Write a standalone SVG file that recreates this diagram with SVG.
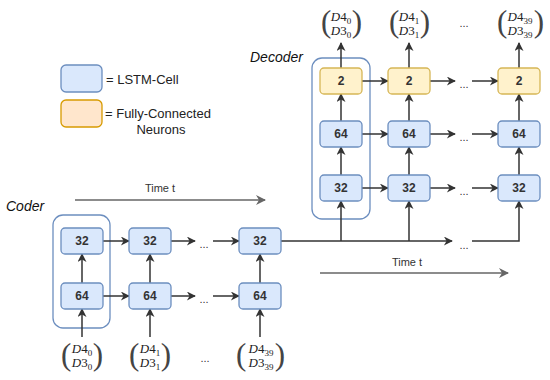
<svg xmlns="http://www.w3.org/2000/svg" width="550" height="380" viewBox="0 0 550 380">
<style>
.cell{fill:#dae8fc;stroke:#6c8ebf;stroke-width:1.3}
.fc{fill:#fff2cc;stroke:#d6b656;stroke-width:1.3}
.grp{fill:none;stroke:#6c8ebf;stroke-width:1.3}
.lbl{font-family:"Liberation Sans",Arial,sans-serif;font-weight:bold;font-size:12px;fill:#333;text-anchor:middle}
.txt{font-family:"Liberation Sans",Arial,sans-serif;font-size:13px;fill:#222}
.ttl{font-family:"Liberation Sans",Arial,sans-serif;font-style:italic;font-size:14px;fill:#111}
.tm{font-family:"Liberation Sans",Arial,sans-serif;font-size:11px;fill:#333;text-anchor:middle}
.dots{font-family:"Liberation Sans",Arial,sans-serif;font-size:11px;fill:#333;text-anchor:middle}
.m{font-family:"Liberation Serif","Times New Roman",serif;font-size:13px;fill:#222;text-anchor:middle}
.par{font-family:"Liberation Serif","Times New Roman",serif;font-size:31px;fill:#444}
.pr{text-anchor:end}
.conn{stroke:#333;stroke-width:1.5;fill:none}
.arr{marker-end:url(#arr)}
.time{stroke:#666;stroke-width:1.5;fill:none;marker-end:url(#garr)}
</style>
<defs>
<marker id="arr" viewBox="0 0 10 10" refX="9" refY="5" markerWidth="10" markerHeight="9" markerUnits="userSpaceOnUse" orient="auto">
<path d="M0,0 L10,5 L0,10 L3,5 z" fill="#333"/>
</marker>
<marker id="garr" viewBox="0 0 10 10" refX="9" refY="5" markerWidth="12" markerHeight="10" markerUnits="userSpaceOnUse" orient="auto">
<path d="M0,0 L10,5 L0,10 L3,5 z" fill="#666"/>
</marker>
</defs>

<g id="legend">
<rect x="61" y="65" width="41" height="27" rx="5" class="cell"/>
<text x="106" y="84" class="txt">= LSTM-Cell</text>
<rect x="61" y="100" width="41" height="27" rx="5" style="fill:#ffe6cc;stroke:#d79b00;stroke-width:1.3"/>
<text x="105" y="118" class="txt">= Fully-Connected</text>
<text x="161" y="134" class="txt" text-anchor="middle">Neurons</text>
</g>

<g id="titles">
<text x="250" y="62" class="ttl">Decoder</text>
<text x="6" y="211" class="ttl">Coder</text>
</g>

<g id="coder-group"><rect x="53" y="215" width="57" height="113" rx="10" class="grp"/></g>
<g id="decoder-group"><rect x="312" y="58" width="58" height="161" rx="10" class="grp"/></g>

<g id="time-arrows">
<text x="160" y="192" class="tm">Time t</text>
<path d="M75,200 H265" class="time"/>
<text x="407" y="266" class="tm">Time t</text>
<path d="M320,273 H508" class="time"/>
</g>

<g id="connectors">
<path d="M82,337 V309" class="conn arr"/>
<path d="M150,337 V309" class="conn arr"/>
<path d="M260,337 V309" class="conn arr"/>
<path d="M82,283 V254" class="conn arr"/>
<path d="M150,283 V254" class="conn arr"/>
<path d="M260,283 V254" class="conn arr"/>
<path d="M103,241 H129" class="conn arr"/>
<path d="M171,241 H195" class="conn arr"/>
<path d="M213,241 H239" class="conn arr"/>
<path d="M103,296 H129" class="conn arr"/>
<path d="M171,296 H195" class="conn arr"/>
<path d="M213,296 H239" class="conn arr"/>
<path d="M281,241 H452" class="conn arr"/>
<path d="M341,241 V201" class="conn arr"/>
<path d="M409,241 V201" class="conn arr"/>
<path d="M472,241 H519 V201" class="conn arr"/>
<path d="M341,175 V147" class="conn arr"/>
<path d="M409,175 V147" class="conn arr"/>
<path d="M519,175 V147" class="conn arr"/>
<path d="M341,121 V94" class="conn arr"/>
<path d="M409,121 V94" class="conn arr"/>
<path d="M519,121 V94" class="conn arr"/>
<path d="M341,68 V43" class="conn arr"/>
<path d="M409,68 V43" class="conn arr"/>
<path d="M519,68 V43" class="conn arr"/>
<path d="M362,81 H388" class="conn arr"/>
<path d="M430,81 H455" class="conn arr"/>
<path d="M472,81 H498" class="conn arr"/>
<path d="M362,134 H388" class="conn arr"/>
<path d="M430,134 H455" class="conn arr"/>
<path d="M472,134 H498" class="conn arr"/>
<path d="M362,188 H388" class="conn arr"/>
<path d="M430,188 H455" class="conn arr"/>
<path d="M472,188 H498" class="conn arr"/>
<text x="204" y="248" class="dots">...</text>
<text x="204" y="303" class="dots">...</text>
<text x="464" y="88" class="dots">...</text>
<text x="464" y="141" class="dots">...</text>
<text x="464" y="195" class="dots">...</text>
<text x="464" y="249" class="dots">...</text>
</g>

<g id="coder-c0-32"><rect x="61" y="228" width="42" height="26" rx="4" class="cell"/><text x="82" y="245" class="lbl">32</text></g>
<g id="coder-c1-32"><rect x="129" y="228" width="42" height="26" rx="4" class="cell"/><text x="150" y="245" class="lbl">32</text></g>
<g id="coder-c2-32"><rect x="239" y="228" width="42" height="26" rx="4" class="cell"/><text x="260" y="245" class="lbl">32</text></g>
<g id="coder-c0-64"><rect x="61" y="283" width="42" height="26" rx="4" class="cell"/><text x="82" y="300" class="lbl">64</text></g>
<g id="coder-c1-64"><rect x="129" y="283" width="42" height="26" rx="4" class="cell"/><text x="150" y="300" class="lbl">64</text></g>
<g id="coder-c2-64"><rect x="239" y="283" width="42" height="26" rx="4" class="cell"/><text x="260" y="300" class="lbl">64</text></g>

<g id="dec-c0-32"><rect x="320" y="175" width="42" height="26" rx="4" class="cell"/><text x="341" y="192" class="lbl">32</text></g>
<g id="dec-c1-32"><rect x="388" y="175" width="42" height="26" rx="4" class="cell"/><text x="409" y="192" class="lbl">32</text></g>
<g id="dec-c2-32"><rect x="498" y="175" width="42" height="26" rx="4" class="cell"/><text x="519" y="192" class="lbl">32</text></g>
<g id="dec-c0-64"><rect x="320" y="121" width="42" height="26" rx="4" class="cell"/><text x="341" y="138" class="lbl">64</text></g>
<g id="dec-c1-64"><rect x="388" y="121" width="42" height="26" rx="4" class="cell"/><text x="409" y="138" class="lbl">64</text></g>
<g id="dec-c2-64"><rect x="498" y="121" width="42" height="26" rx="4" class="cell"/><text x="519" y="138" class="lbl">64</text></g>
<g id="dec-c0-2"><rect x="320" y="68" width="42" height="26" rx="4" class="fc"/><text x="341" y="85" class="lbl">2</text></g>
<g id="dec-c1-2"><rect x="388" y="68" width="42" height="26" rx="4" class="fc"/><text x="409" y="85" class="lbl">2</text></g>
<g id="dec-c2-2"><rect x="498" y="68" width="42" height="26" rx="4" class="fc"/><text x="519" y="85" class="lbl">2</text></g>

<g id="out-0">
<text x="321" y="32" class="par">(</text><text x="362" y="32" class="par pr">)</text>
<text x="341" y="21" class="m"><tspan font-style="italic">D</tspan>4<tspan font-size="9" dy="3">0</tspan></text>
<text x="341" y="35" class="m"><tspan font-style="italic">D</tspan>3<tspan font-size="9" dy="3">0</tspan></text>
</g>
<g id="out-1">
<text x="389" y="32" class="par">(</text><text x="430" y="32" class="par pr">)</text>
<text x="409" y="21" class="m"><tspan font-style="italic">D</tspan>4<tspan font-size="9" dy="3">1</tspan></text>
<text x="409" y="35" class="m"><tspan font-style="italic">D</tspan>3<tspan font-size="9" dy="3">1</tspan></text>
</g>
<text x="464" y="27" class="dots">...</text>
<g id="out-39">
<text x="497" y="32" class="par">(</text><text x="544" y="32" class="par pr">)</text>
<text x="520" y="21" class="m"><tspan font-style="italic">D</tspan>4<tspan font-size="9" dy="3">39</tspan></text>
<text x="520" y="35" class="m"><tspan font-style="italic">D</tspan>3<tspan font-size="9" dy="3">39</tspan></text>
</g>

<g id="in-0">
<text x="61" y="365" class="par">(</text><text x="103" y="365" class="par pr">)</text>
<text x="82" y="353" class="m"><tspan font-style="italic">D</tspan>4<tspan font-size="9" dy="3">0</tspan></text>
<text x="82" y="367" class="m"><tspan font-style="italic">D</tspan>3<tspan font-size="9" dy="3">0</tspan></text>
</g>
<g id="in-1">
<text x="129" y="365" class="par">(</text><text x="171" y="365" class="par pr">)</text>
<text x="150" y="353" class="m"><tspan font-style="italic">D</tspan>4<tspan font-size="9" dy="3">1</tspan></text>
<text x="150" y="367" class="m"><tspan font-style="italic">D</tspan>3<tspan font-size="9" dy="3">1</tspan></text>
</g>
<text x="205" y="362" class="dots">...</text>
<g id="in-39">
<text x="236" y="365" class="par">(</text><text x="285" y="365" class="par pr">)</text>
<text x="261" y="353" class="m"><tspan font-style="italic">D</tspan>4<tspan font-size="9" dy="3">39</tspan></text>
<text x="261" y="367" class="m"><tspan font-style="italic">D</tspan>3<tspan font-size="9" dy="3">39</tspan></text>
</g>
</svg>
